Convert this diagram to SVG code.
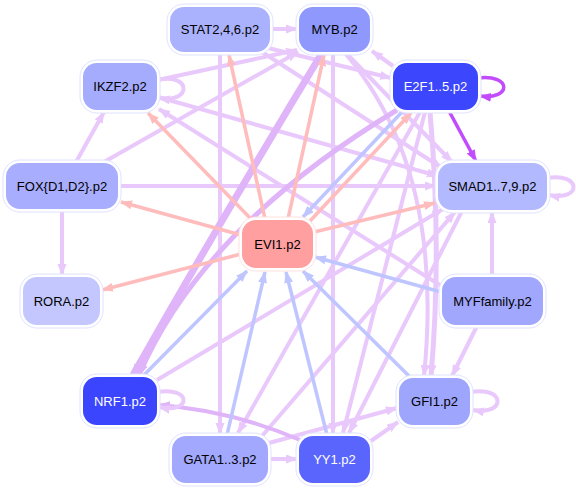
<svg xmlns="http://www.w3.org/2000/svg" width="576" height="489" viewBox="0 0 576 489">
<defs>
<style>
.e{fill:none;stroke:#e9c8fb;stroke-width:4}
.ed{fill:none;stroke:#dfb4f8;stroke-width:4}
.p{fill:none;stroke:#ffbcbc;stroke-width:3.5}
.b{fill:none;stroke:#bfc6ff;stroke-width:3.5}
.u{fill:none;stroke:#c24cfd;stroke-width:3.5}
.o{fill:#ffffff;stroke:#dfe2ff;stroke-width:1}
.t{font-family:"Liberation Sans",Arial,sans-serif;font-size:13px;text-anchor:middle;fill:#000}
.w{fill:#fff}
</style>
<marker id="ml" markerUnits="userSpaceOnUse" markerWidth="13" markerHeight="10" refX="11" refY="4.5" orient="auto"><path d="M0,0 L12,4.5 L0,9 z" fill="#e9c8fb"/></marker>
<marker id="md" markerUnits="userSpaceOnUse" markerWidth="13" markerHeight="10" refX="11" refY="4.5" orient="auto"><path d="M0,0 L12,4.5 L0,9 z" fill="#dfb4f8"/></marker>
<marker id="mp" markerUnits="userSpaceOnUse" markerWidth="13" markerHeight="10" refX="11" refY="4.5" orient="auto"><path d="M0,0 L12,4.5 L0,9 z" fill="#ffbcbc"/></marker>
<marker id="mb" markerUnits="userSpaceOnUse" markerWidth="13" markerHeight="10" refX="11" refY="4.5" orient="auto"><path d="M0,0 L12,4.5 L0,9 z" fill="#bfc6ff"/></marker>
<marker id="mu" markerUnits="userSpaceOnUse" markerWidth="13" markerHeight="10" refX="11" refY="4.5" orient="auto"><path d="M0,0 L12,4.5 L0,9 z" fill="#c24cfd"/></marker>
</defs>
<rect width="576" height="489" fill="#fff"/>
<g id="edges">
<path class="e" marker-end="url(#ml)" d="M271 29 L297 29"/>
<path class="e" marker-end="url(#ml)" d="M268 48 L391 78"/>
<path class="e" marker-end="url(#ml)" d="M262 52 L442 168"/>
<path class="e" marker-end="url(#ml)" d="M220 53 L220 434"/>
<path class="e" marker-end="url(#ml)" d="M158 80 L297 50"/>
<path class="e" marker-end="url(#ml)" d="M158 97 L438 176"/>
<path class="e" marker-end="url(#ml)" d="M443 287 L159 109"/>
<path class="e" marker-end="url(#ml)" d="M76 162 L104 112"/>
<path class="e" marker-end="url(#ml)" d="M104 162 L298 52"/>
<path class="e" marker-end="url(#ml)" d="M119 186 L436 186"/>
<path class="e" marker-end="url(#ml)" d="M62 210 L62 275"/>
<path class="e" marker-end="url(#ml)" d="M346 53 L452 162"/>
<path class="e" marker-end="url(#ml)" d="M333 53 L333 434"/>
<path class="e" marker-end="url(#ml)" d="M393 66 L372 51"/>
<path class="e" marker-end="url(#ml)" d="M492 276 L492 212"/>
<path class="e" marker-end="url(#ml)" d="M477 326 L452 376"/>
<path class="e" marker-end="url(#ml)" d="M157 380 L443 209"/>
<path class="e" marker-end="url(#ml)" d="M269 459 L297 459"/>
<path class="e" marker-end="url(#ml)" d="M269 443 L397 408"/>
<path class="e" marker-end="url(#ml)" d="M371 441 L398 422"/>
<path class="e" marker-end="url(#ml)" d="M420 112 L238 433"/>
<path class="e" marker-end="url(#ml)" d="M425 112 L343 433"/>
<path class="e" marker-end="url(#ml)" d="M462 211 L349 433"/>
<path class="e" marker-end="url(#ml)" d="M262 436 L455 212"/>
<path class="e" style="stroke-width:5" marker-end="url(#ml)" d="M430 112 Q442 250 431 376"/>
<path class="e" marker-end="url(#ml)" d="M345 53 Q445 170 424 376"/>
<path class="ed" style="stroke-width:7" marker-end="url(#md)" d="M322 53 Q222 218 133 375"/>
<path class="ed" style="stroke-width:5" marker-end="url(#md)" d="M397 110 Q202 228 139 375"/>
<path class="ed" marker-end="url(#md)" d="M300 440 Q230 410 159 405"/>
<path class="e" marker-end="url(#ml)" d="M157 80 C192 72 192 104 159 98"/>
<path class="e" marker-end="url(#ml)" d="M547 178 C582 172 582 202 549 195"/>
<path class="e" marker-end="url(#ml)" d="M157 392 C192 386 192 414 159 407"/>
<path class="e" marker-end="url(#ml)" d="M471 392 C506 386 506 416 473 410"/>
<path class="u" marker-end="url(#mu)" d="M478 78 C512 74 512 100 480 96"/>
<path class="u" marker-end="url(#mu)" d="M449 111 L476 161"/>
<path class="p" marker-end="url(#mp)" d="M265 219 L229 55"/>
<path class="p" marker-end="url(#mp)" d="M288 219 L324 55"/>
<path class="p" marker-end="url(#mp)" d="M253 221 L148 113"/>
<path class="p" marker-end="url(#mp)" d="M241 235 L121 202"/>
<path class="p" marker-end="url(#mp)" d="M241 254 L102 290"/>
<path class="p" marker-end="url(#mp)" d="M310 221 L411 113"/>
<path class="p" marker-end="url(#mp)" d="M314 232 L435 203"/>
<path class="b" marker-end="url(#mb)" d="M402 112 L303 217"/>
<path class="b" marker-end="url(#mb)" d="M441 292 L315 257"/>
<path class="b" marker-end="url(#mb)" d="M143 376 L247 271"/>
<path class="b" marker-end="url(#mb)" d="M227 435 L265 272"/>
<path class="b" marker-end="url(#mb)" d="M327 435 L286 272"/>
<path class="b" marker-end="url(#mb)" d="M410 377 L303 271"/>
</g>
<g id="STAT"><rect class="o" x="167" y="4" width="106" height="51" rx="17"/><rect x="170" y="7" width="100" height="45" rx="14" fill="#abb2fd"/><text class="t" x="220" y="34">STAT2,4,6.p2</text></g>
<g id="MYB"><rect class="o" x="296" y="4" width="77" height="51" rx="17"/><rect x="299" y="7" width="71" height="45" rx="14" fill="#8e98fd"/><text class="t" x="334.5" y="34">MYB.p2</text></g>
<g id="E2F1"><rect class="o" x="390" y="60" width="91" height="53" rx="17"/><rect x="393" y="63" width="85" height="47" rx="14" fill="#3b46fd"/><text class="t w" x="435.5" y="91">E2F1..5.p2</text></g>
<g id="IKZF2"><rect class="o" x="80" y="60" width="80" height="53" rx="17"/><rect x="83" y="63" width="74" height="47" rx="14" fill="#a5acfd"/><text class="t" x="120" y="91">IKZF2.p2</text></g>
<g id="FOX"><rect class="o" x="3" y="160" width="118" height="52" rx="17"/><rect x="6" y="163" width="112" height="46" rx="14" fill="#a8aefd"/><text class="t" x="62" y="190.5">FOX{D1,D2}.p2</text></g>
<g id="SMAD"><rect class="o" x="435" y="160" width="115" height="53" rx="17"/><rect x="438" y="163" width="109" height="47" rx="14" fill="#b3b9fe"/><text class="t" x="492.5" y="191">SMAD1..7,9.p2</text></g>
<g id="EVI1"><rect x="239" y="217" width="77" height="54" rx="17" fill="#fff" stroke="#ffe0e0" stroke-width="1"/><rect x="242" y="220" width="71" height="48" rx="14" fill="#ff9f9f"/><text class="t" x="277.5" y="248.5">EVI1.p2</text></g>
<g id="RORA"><rect class="o" x="20" y="274" width="83" height="54" rx="17"/><rect x="23" y="277" width="77" height="48" rx="14" fill="#c3c7fe"/><text class="t" x="61.5" y="305.5">RORA.p2</text></g>
<g id="MYF"><rect class="o" x="439" y="274" width="107" height="54" rx="17"/><rect x="442" y="277" width="101" height="48" rx="14" fill="#a0a7fd"/><text class="t" x="492.5" y="305.5">MYFfamily.p2</text></g>
<g id="NRF1"><rect class="o" x="80" y="374" width="80" height="54" rx="17"/><rect x="83" y="377" width="74" height="48" rx="14" fill="#3a45fd"/><text class="t w" x="120" y="405.5">NRF1.p2</text></g>
<g id="GFI1"><rect class="o" x="396" y="375" width="77" height="53" rx="17"/><rect x="399" y="378" width="71" height="47" rx="14" fill="#9da5fd"/><text class="t" x="434.5" y="406">GFI1.p2</text></g>
<g id="GATA"><rect class="o" x="169" y="433" width="102" height="53" rx="17"/><rect x="172" y="436" width="96" height="47" rx="14" fill="#a1a8fd"/><text class="t" x="220" y="464">GATA1..3.p2</text></g>
<g id="YY1"><rect class="o" x="296" y="433" width="77" height="53" rx="17"/><rect x="299" y="436" width="71" height="47" rx="14" fill="#5a65fd"/><text class="t w" x="334.5" y="464">YY1.p2</text></g>
</svg>
